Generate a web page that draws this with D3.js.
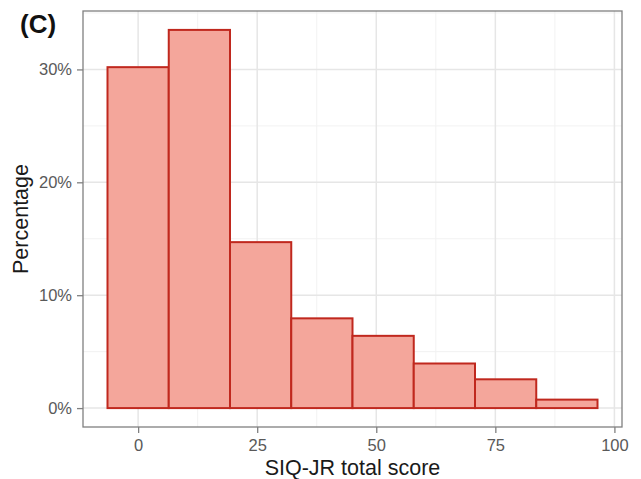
<!DOCTYPE html>
<html>
<head>
<meta charset="utf-8">
<style>
body { margin: 0; background: #fff; }
svg { display: block; font-family: "Liberation Sans", Arial, sans-serif; }
</style>
</head>
<body>
<div id="chart"></div>
<script src="https://d3js.org/d3.v7.min.js"></script>
<script>
// histogram bins (SIQ-JR total score) and share of respondents, %
const binStart = -6.43
const binWidth = 12.86
const percents = [30.2, 33.5, 14.7, 7.95, 6.4, 3.95, 2.55, 0.75]
const xTicks = [0, 25, 50, 75, 100]
const yTicks = [0, 10, 20, 30]

const W = 641, H = 479
const panel = {left: 83, top: 11, right: 622, bottom: 427}

const bins = percents.map((p, i) => ({
    x0: binStart + i * binWidth,
    x1: binStart + (i + 1) * binWidth,
    p
}))

const xMin = binStart, xMax = binStart + percents.length * binWidth
const xPad = (xMax - xMin) * 0.05
const yMax = d3.max(percents)

const x = d3.scaleLinear()
    .domain([xMin - xPad, xMax + xPad])
    .range([panel.left, panel.right])
const y = d3.scaleLinear()
    .domain([-yMax * 0.05, yMax * 1.05])
    .range([panel.bottom, panel.top])

const svg = d3.select("#chart").append("svg")
    .attr("width", W)
    .attr("height", H)

// minor grid
const g = svg.append("g")
const minorX = xTicks.slice(0, -1).map(v => v + 12.5)
const minorY = yTicks.map(v => v + 5)
g.selectAll(".mx").data(minorX).enter().append("line")
    .attr("x1", d => x(d)).attr("x2", d => x(d))
    .attr("y1", panel.top).attr("y2", panel.bottom)
    .attr("stroke", "#f2f2f2").attr("stroke-width", 1)
g.selectAll(".my").data(minorY).enter().append("line")
    .attr("x1", panel.left).attr("x2", panel.right)
    .attr("y1", d => y(d)).attr("y2", d => y(d))
    .attr("stroke", "#f2f2f2").attr("stroke-width", 1)
// major grid
g.selectAll(".gx").data(xTicks).enter().append("line")
    .attr("x1", d => x(d)).attr("x2", d => x(d))
    .attr("y1", panel.top).attr("y2", panel.bottom)
    .attr("stroke", "#e6e6e6").attr("stroke-width", 1.5)
g.selectAll(".gy").data(yTicks).enter().append("line")
    .attr("x1", panel.left).attr("x2", panel.right)
    .attr("y1", d => y(d)).attr("y2", d => y(d))
    .attr("stroke", "#e6e6e6").attr("stroke-width", 1.5)

// bars
svg.selectAll(".bar").data(bins).enter().append("rect")
    .attr("class", "bar")
    .attr("x", d => x(d.x0))
    .attr("width", d => x(d.x1) - x(d.x0))
    .attr("y", d => y(d.p))
    .attr("height", d => y(0) - y(d.p))
    .attr("fill", "#f4a69b")
    .attr("stroke", "#c0281e")
    .attr("stroke-width", 2)

// panel border
svg.append("rect")
    .attr("x", panel.left).attr("y", panel.top)
    .attr("width", panel.right - panel.left)
    .attr("height", panel.bottom - panel.top)
    .attr("fill", "none")
    .attr("stroke", "#808080")
    .attr("stroke-width", 1.3)

// axes
const xAxis = svg.append("g")
    .attr("transform", "translate(0," + panel.bottom + ")")
    .call(d3.axisBottom(x).tickValues(xTicks).tickSize(6).tickPadding(6))
const yAxis = svg.append("g")
    .attr("transform", "translate(" + panel.left + ",0)")
    .call(d3.axisLeft(y).tickValues(yTicks).tickSize(6).tickPadding(5).tickFormat(d => d + "%"))
;[xAxis, yAxis].forEach(a => {
    a.select(".domain").remove()
    a.selectAll(".tick line").attr("stroke", "#808080").attr("stroke-width", 1.3)
    a.selectAll(".tick text")
        .attr("fill", "#595959")
        .style("font-size", "16.5px")
        .style("font-family", "Liberation Sans, Arial, sans-serif")
})

// titles
svg.append("text")
    .attr("x", (panel.left + panel.right) / 2)
    .attr("y", 475)
    .attr("text-anchor", "middle")
    .style("font-size", "21.5px")
    .attr("fill", "#1a1a1a")
    .text("SIQ-JR total score")
svg.append("text")
    .attr("transform", "translate(28," + ((panel.top + panel.bottom) / 2) + ") rotate(-90)")
    .attr("text-anchor", "middle")
    .style("font-size", "21.5px")
    .attr("fill", "#1a1a1a")
    .text("Percentage")
svg.append("text")
    .attr("x", 20)
    .attr("y", 33)
    .style("font-size", "26px")
    .style("font-weight", "bold")
    .attr("fill", "#111")
    .text("(C)")
</script>
</body>
</html>
